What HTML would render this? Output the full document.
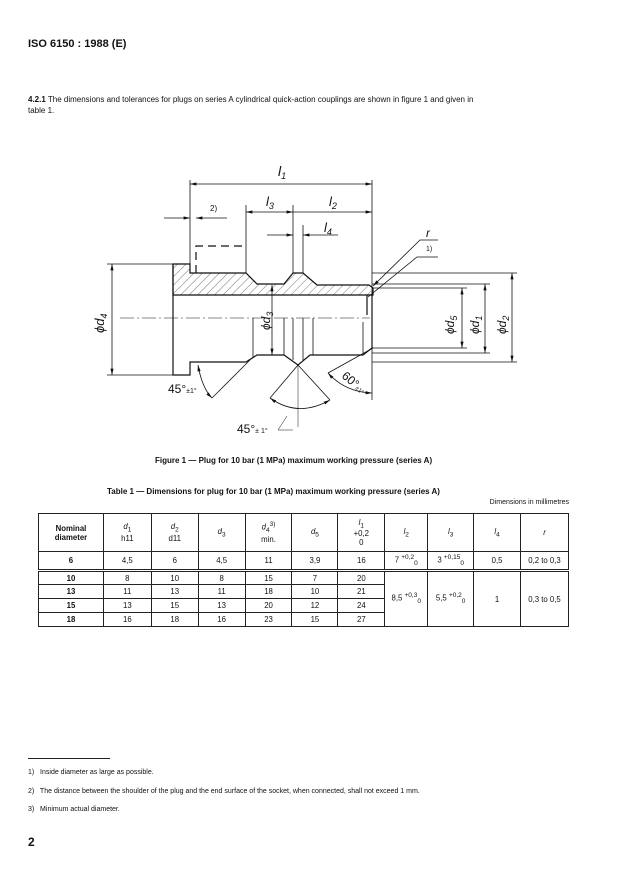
<!DOCTYPE html>
<html><head><meta charset="utf-8"><style>
body{margin:0;width:619px;height:877px;background:#fff;position:relative;font-family:"Liberation Sans",sans-serif;color:#111;overflow:hidden}
.t{position:absolute;white-space:nowrap}
table{position:absolute;left:38px;top:513px;width:531px;border-collapse:collapse;font-size:7.8px}
td{border:1px solid #222;text-align:center;padding:0}
</style></head><body>
<div class="t" style="left:28px;top:38px;font-size:11px;font-weight:bold">ISO 6150 : 1988 (E)</div>
<div class="t" style="left:28px;top:95px;font-size:8px"><b>4.2.1</b> The dimensions and tolerances for plugs on series A cylindrical quick-action couplings are shown in figure 1 and given in</div>
<div class="t" style="left:28px;top:106px;font-size:8px">table 1.</div>

<svg style="position:absolute;left:0;top:0" width="619" height="460" font-family="Liberation Sans" fill="none" stroke="#111" stroke-width="0.8">
<defs><marker id="a" markerWidth="8" markerHeight="4" refX="8" refY="2" orient="auto-start-reverse"><path d="M0,0 L8,2 L0,4z" fill="#111" stroke="none"/></marker>
<pattern id="h" width="6" height="6" patternUnits="userSpaceOnUse" patternTransform="rotate(45)"><line x1="0" y1="0" x2="0" y2="6" stroke="#222" stroke-width="0.6"/></pattern></defs>
<line x1="190" y1="184" x2="372" y2="184" marker-start="url(#a)" marker-end="url(#a)"/>
<line x1="190" y1="180" x2="190" y2="273"/><line x1="372" y1="180" x2="372" y2="400"/>
<line x1="246" y1="212" x2="293" y2="212" marker-start="url(#a)" marker-end="url(#a)"/>
<line x1="293" y1="212" x2="372" y2="212" marker-end="url(#a)"/>
<line x1="246" y1="205" x2="246" y2="273"/><line x1="293" y1="205" x2="293" y2="273"/><line x1="303" y1="225" x2="303" y2="273"/>
<line x1="164" y1="218" x2="190" y2="218" marker-end="url(#a)"/><line x1="227" y1="218" x2="196" y2="218" marker-end="url(#a)"/>
<line x1="267" y1="235" x2="293" y2="235" marker-end="url(#a)"/><line x1="338" y1="235" x2="303" y2="235" marker-end="url(#a)"/>
<path d="M196,273 V246 H242" stroke-dasharray="8,5" stroke-width="1.2"/>
<path d="M173,264 H190 V273 H246 L257,284 H284 L293,273 H303 L317,285 H369 L373,288 V295 H173 Z" fill="url(#h)" stroke-width="1.2"/>
<path d="M173,264 V375 H190 V362 H246 L257,355 H284 L298,365 L310,355 H363 L372,348 V295" stroke-width="1.2"/>
<line x1="367" y1="295" x2="367" y2="315" stroke-width="1.2"/><line x1="363" y1="322" x2="363" y2="353"/>
<g stroke-width="0.8"><line x1="253" y1="318" x2="253" y2="357"/><line x1="284" y1="318" x2="284" y2="355"/><line x1="293" y1="318" x2="293" y2="360"/><line x1="303" y1="318" x2="303" y2="360"/><line x1="313" y1="318" x2="313" y2="355"/></g>
<line x1="120" y1="318" x2="370" y2="318" stroke-dasharray="14,3,2,3" stroke-width="0.6"/>
<line x1="272" y1="285" x2="272" y2="355" marker-start="url(#a)" marker-end="url(#a)"/>
<line x1="107" y1="264" x2="173" y2="264"/><line x1="107" y1="375" x2="173" y2="375"/>
<line x1="112" y1="264" x2="112" y2="375" marker-start="url(#a)" marker-end="url(#a)"/>
<line x1="372" y1="273" x2="517" y2="273"/><line x1="372" y1="284" x2="490" y2="284"/><line x1="372" y1="288" x2="467" y2="288"/>
<line x1="372" y1="348" x2="467" y2="348"/><line x1="372" y1="353" x2="490" y2="353"/><line x1="372" y1="362" x2="517" y2="362"/>
<line x1="462" y1="288" x2="462" y2="348" marker-start="url(#a)" marker-end="url(#a)"/>
<line x1="485" y1="284" x2="485" y2="353" marker-start="url(#a)" marker-end="url(#a)"/>
<line x1="512" y1="273" x2="512" y2="362" marker-start="url(#a)" marker-end="url(#a)"/>
<polyline points="438,240 420,240 373,286" marker-end="url(#a)"/>
<polyline points="438,257 417,257 368,297"/>
<line x1="250" y1="360" x2="212" y2="398"/>
<path d="M198,365 Q202,388 212,398" marker-start="url(#a)" marker-end="url(#a)"/>
<line x1="298" y1="365" x2="270" y2="398"/><line x1="298" y1="365" x2="330" y2="400"/><line x1="298" y1="365" x2="298" y2="427" stroke-width="0.5"/>
<path d="M270,398 Q298,418 330,400" marker-start="url(#a)" marker-end="url(#a)"/>
<polyline points="293,430 278,430 287,416" stroke-width="0.5"/>
<line x1="373" y1="348" x2="328" y2="373"/>
<path d="M328,373 Q345,392 372,393" marker-start="url(#a)" marker-end="url(#a)"/>
<g fill="#111" stroke="none" font-style="italic">
<text x="278" y="176" font-size="14">l<tspan font-size="9" dy="3">1</tspan></text>
<text x="266" y="206" font-size="13">l<tspan font-size="9" dy="3">3</tspan></text>
<text x="329" y="206" font-size="13">l<tspan font-size="9" dy="3">2</tspan></text>
<text x="324" y="232" font-size="13">l<tspan font-size="9" dy="3">4</tspan></text>
<text x="210" y="211" font-size="8" font-style="normal">2)</text>
<text x="426" y="237" font-size="12">r</text>
<text x="426" y="251" font-size="7" font-style="normal">1)</text>
<text transform="translate(104,333) rotate(-90)" font-size="13">ϕd<tspan font-size="9" dy="3">4</tspan></text>
<text transform="translate(270,330) rotate(-90)" font-size="12">ϕd<tspan font-size="9" dy="3">3</tspan></text>
<text transform="translate(454,334) rotate(-90)" font-size="12">ϕd<tspan font-size="9" dy="3">5</tspan></text>
<text transform="translate(479,334) rotate(-90)" font-size="12">ϕd<tspan font-size="9" dy="3">1</tspan></text>
<text transform="translate(506,334) rotate(-90)" font-size="12">ϕd<tspan font-size="9" dy="3">2</tspan></text>
<text x="168" y="393" font-size="12" font-style="normal">45°<tspan font-size="7">±1°</tspan></text>
<text x="237" y="433" font-size="12" font-style="normal">45°<tspan font-size="7">± 1°</tspan></text>
<text transform="translate(341,377) rotate(40)" font-size="12" font-style="normal">60°<tspan font-size="6">±1°</tspan></text>
</g></svg>

<div class="t" style="left:155px;top:456px;font-size:8px;font-weight:bold">Figure 1 — Plug for 10 bar (1 MPa) maximum working pressure (series A)</div>
<div class="t" style="left:107px;top:487px;font-size:8px;font-weight:bold">Table 1 — Dimensions for plug for 10 bar (1 MPa) maximum working pressure (series A)</div>
<div class="t" style="right:50px;top:499px;font-size:7px">Dimensions in millimetres</div>
<table>
<colgroup><col style="width:65px"><col style="width:48px"><col style="width:47px"><col style="width:47px"><col style="width:47px"><col style="width:46px"><col style="width:47px"><col style="width:43px"><col style="width:46px"><col style="width:47px"><col style="width:48px"></colgroup>
<tr style="height:38px"><td><b>Nominal<br>diameter</b></td><td><i>d</i><sub>1</sub><br>h11</td><td><i>d</i><sub>2</sub><br>d11</td><td><i>d</i><sub>3</sub></td><td><i>d</i><sub>4</sub><sup>3)</sup><br>min.</td><td><i>d</i><sub>5</sub></td><td><i>l</i><sub>1</sub><br>+0,2<br>0</td><td><i>l</i><sub>2</sub></td><td><i>l</i><sub>3</sub></td><td><i>l</i><sub>4</sub></td><td><i>r</i></td></tr>
<tr style="height:19px;border-bottom:3px double #222"><td><b>6</b></td><td>4,5</td><td>6</td><td>4,5</td><td>11</td><td>3,9</td><td>16</td><td>7 <sup>+0,2</sup><sub>0</sub></td><td>3 <sup>+0,15</sup><sub>0</sub></td><td>0,5</td><td>0,2 to 0,3</td></tr>
<tr style="height:14px"><td><b>10</b></td><td>8</td><td>10</td><td>8</td><td>15</td><td>7</td><td>20</td><td rowspan="4">8,5 <sup>+0,3</sup><sub>0</sub></td><td rowspan="4">5,5 <sup>+0,2</sup><sub>0</sub></td><td rowspan="4">1</td><td rowspan="4">0,3 to 0,5</td></tr>
<tr style="height:14px"><td><b>13</b></td><td>11</td><td>13</td><td>11</td><td>18</td><td>10</td><td>21</td></tr>
<tr style="height:14px"><td><b>15</b></td><td>13</td><td>15</td><td>13</td><td>20</td><td>12</td><td>24</td></tr>
<tr style="height:14px"><td><b>18</b></td><td>16</td><td>18</td><td>16</td><td>23</td><td>15</td><td>27</td></tr>
</table>

<div style="position:absolute;left:28px;top:758px;width:82px;border-top:1px solid #222"></div>
<div class="t" style="left:28px;top:769px;font-size:7px">1)&nbsp;&nbsp; Inside diameter as large as possible.</div>
<div class="t" style="left:28px;top:788px;font-size:7px">2)&nbsp;&nbsp; The distance between the shoulder of the plug and the end surface of the socket, when connected, shall not exceed 1 mm.</div>
<div class="t" style="left:28px;top:806px;font-size:7px">3)&nbsp;&nbsp; Minimum actual diameter.</div>
<div class="t" style="left:28px;top:835px;font-size:12px;font-weight:bold">2</div>
</body></html>
